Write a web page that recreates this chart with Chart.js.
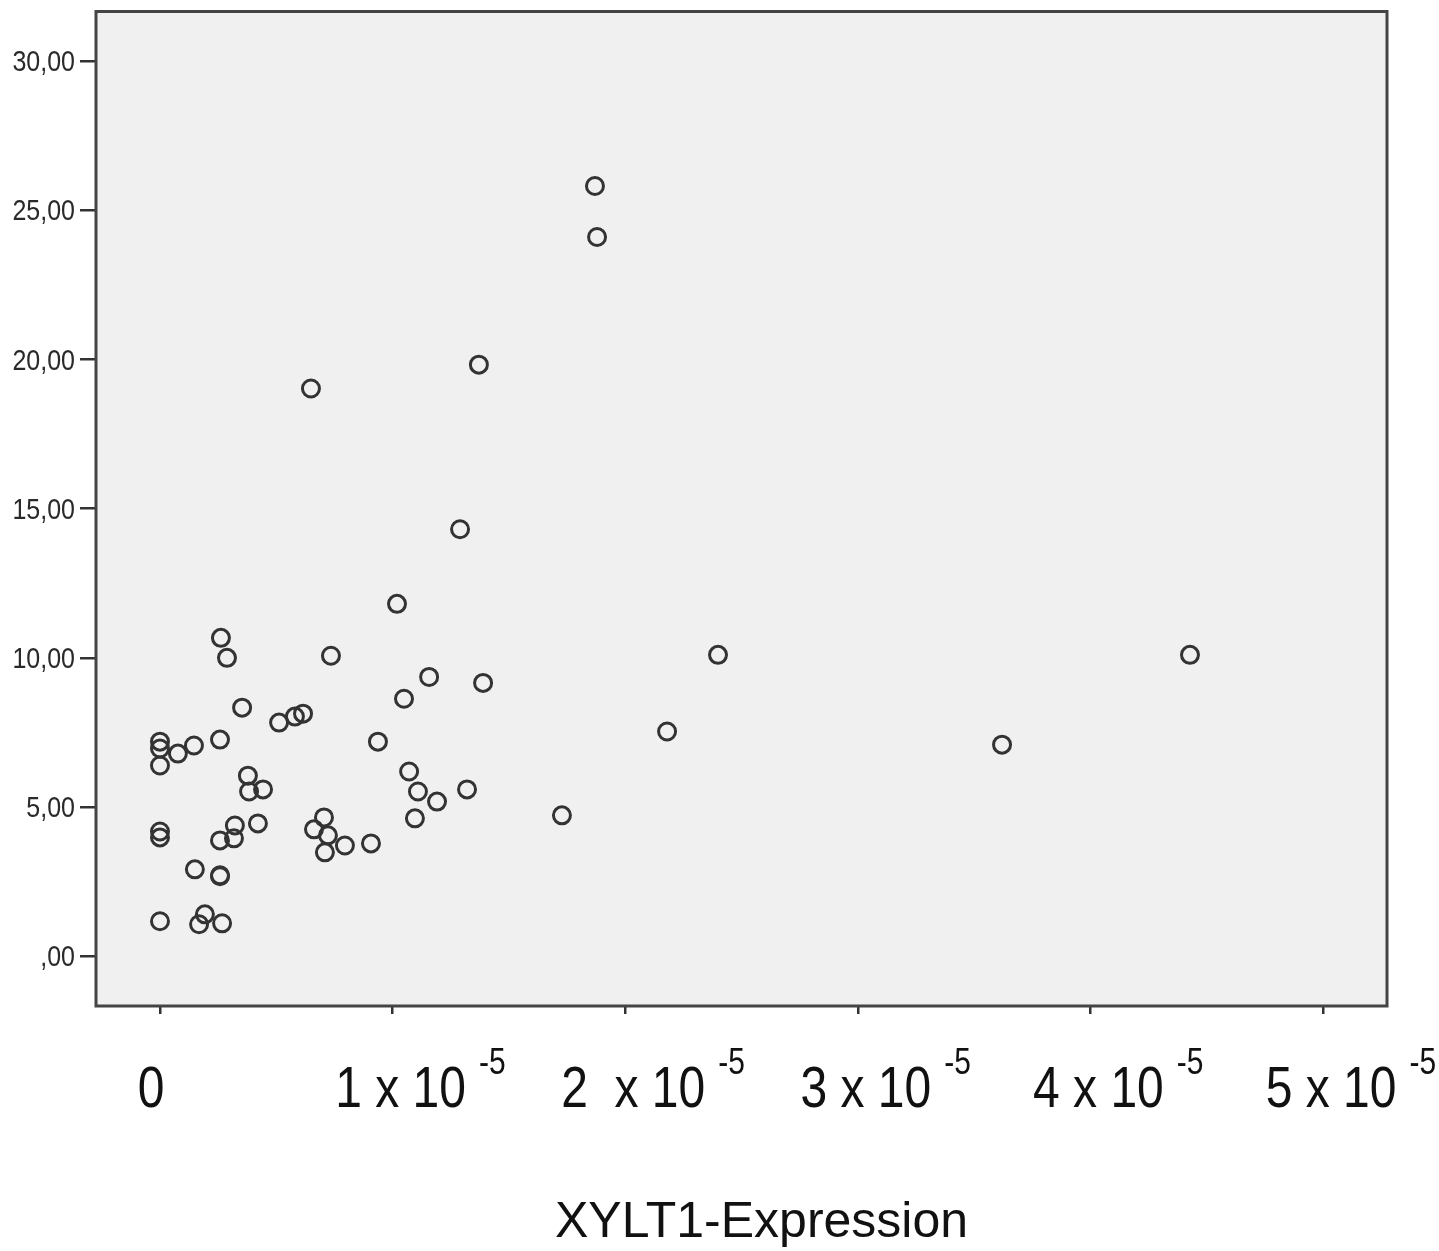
<!DOCTYPE html>
<html>
<head>
<meta charset="utf-8">
<script src="https://cdn.jsdelivr.net/npm/chart.js@4.4.1/dist/chart.umd.min.js"></script>
<style>
  html, body { margin: 0; padding: 0; background: #fff; }
</style>
</head>
<body>
<canvas id="grafico" width="1439" height="1251"></canvas>
<script>
// XYLT1-Expression (x) gegen Messwert (y)
const xylt1 = [
  1.870e-5, 1.879e-5, 1.371e-5, 0.649e-5, 1.290e-5, 1.019e-5, 0.262e-5, 0.288e-5,
  0.735e-5, 2.399e-5, 4.428e-5, 1.157e-5, 1.389e-5, 1.049e-5, 0.353e-5, 0.512e-5,
  0.580e-5, 0.615e-5, 2.180e-5, 3.620e-5, 0, 0, 0.077e-5, 0.146e-5,
  0.258e-5, 0.937e-5, 0, 0.378e-5, 0.383e-5, 0.443e-5, 1.071e-5, 1.109e-5,
  1.191e-5, 1.320e-5, 1.096e-5, 1.728e-5, 0, 0, 0.322e-5, 0.318e-5,
  0.258e-5, 0.421e-5, 0.705e-5, 0.662e-5, 0.722e-5, 0.709e-5, 0.795e-5, 0.907e-5,
  0.150e-5, 0.258e-5, 0.258e-5, 0, 0.193e-5, 0.168e-5, 0.267e-5
];
const werte = [
  25.82, 24.11, 19.83, 19.03, 14.31, 11.81, 10.67, 10.00,
  10.07, 10.10, 10.10, 9.36, 9.16, 8.63, 8.33, 7.83,
  8.03, 8.13, 7.53, 7.09, 7.19, 6.96, 6.79, 7.06,
  7.26, 7.19, 6.39, 6.05, 5.52, 5.59, 6.19, 5.52,
  5.18, 5.59, 4.62, 4.72, 4.18, 3.98, 4.38, 3.95,
  3.88, 4.45, 4.65, 4.25, 4.05, 3.48, 3.71, 3.78,
  2.91, 2.71, 2.68, 1.17, 1.40, 1.07, 1.10
];

const xTicks = [0, 1e-5, 2e-5, 3e-5, 4e-5, 5e-5];
const xTickBasis = ['0', '1 x 10', '2  x 10', '3 x 10', '4 x 10', '5 x 10'];
const xTickExp = ['', '-5', '-5', '-5', '-5', '-5'];
const yTicks = [0, 5, 10, 15, 20, 25, 30];
const yTickLabels = [',00', '5,00', '10,00', '15,00', '20,00', '25,00', '30,00'];
const xTitel = 'XYLT1-Expression';

const schrift = "'Liberation Sans', Arial, sans-serif";

// Text leicht in die Hoehe gezogen, wie im SPSS-Export
const streckText = (ctx, txt, x, y, size, align) => {
  ctx.save();
  ctx.font = size + 'px ' + schrift;
  ctx.textAlign = align || 'left';
  ctx.textBaseline = 'alphabetic';
  ctx.translate(x, y);
  ctx.scale(1, 1.2);
  ctx.fillText(txt, 0, 0);
  ctx.restore();
};

// grauer Hintergrund der Plotflaeche + Rahmen
const rahmenPlugin = {
  id: 'rahmen',
  beforeDraw(chart) {
    const { ctx, chartArea: a } = chart;
    ctx.save();
    ctx.fillStyle = '#fff';
    ctx.fillRect(0, 0, chart.width, chart.height);
    ctx.fillStyle = '#f0f0f0';
    ctx.fillRect(a.left, a.top, a.right - a.left, a.bottom - a.top);
    ctx.restore();
  },
  afterDraw(chart) {
    const { ctx, chartArea: a } = chart;
    ctx.save();
    ctx.strokeStyle = '#444';
    ctx.lineWidth = 3;
    ctx.strokeRect(a.left, a.top, a.right - a.left, a.bottom - a.top);
    ctx.restore();
  }
};

// Achsenbeschriftungen: y mit Komma, x mit Hochzahl (10^-5), Achsentitel
const beschriftungPlugin = {
  id: 'beschriftung',
  afterDraw(chart) {
    const { ctx, chartArea: a } = chart;
    const sx = chart.scales.x;
    const sy = chart.scales.y;
    ctx.save();

    ctx.fillStyle = '#2a2a2a';
    yTicks.forEach((v, i) => {
      const py = sy.getPixelForValue(v);
      streckText(ctx, yTickLabels[i], a.left - 21, py + 10, 25, 'right');
    });

    ctx.fillStyle = '#111';
    const basisY = a.bottom + 101;
    xTicks.forEach((v, i) => {
      const px = sx.getPixelForValue(v);
      ctx.font = '48px ' + schrift;
      const w = ctx.measureText(xTickBasis[i]).width;
      const mitte = px + (xTickExp[i] ? 8 : -9);
      const x0 = mitte - w / 2;
      streckText(ctx, xTickBasis[i], x0, basisY, 48);
      if (xTickExp[i]) streckText(ctx, xTickExp[i], x0 + w + 13, basisY - 33, 30);
    });

    // Titel etwas rechts der Mitte
    ctx.font = '50px ' + schrift;
    ctx.textAlign = 'center';
    ctx.textBaseline = 'alphabetic';
    ctx.fillText(xTitel, (a.left + a.right) / 2 + 20, a.bottom + 231);
    ctx.restore();
  }
};

new Chart(document.getElementById('grafico').getContext('2d'), {
  type: 'scatter',
  data: {
    datasets: [{
      label: 'XYLT1',
      data: xylt1.map((x, i) => ({ x, y: werte[i] })),
      pointStyle: 'circle',
      pointRadius: 8.5,
      pointHoverRadius: 8.5,
      pointBorderWidth: 3,
      borderColor: '#333',
      backgroundColor: 'rgba(0,0,0,0)'
    }]
  },
  options: {
    responsive: false,
    animation: false,
    events: [],
    layout: { padding: { top: 9, right: 52, bottom: 0, left: 0 } },
    plugins: {
      legend: { display: false },
      tooltip: { enabled: false }
    },
    scales: {
      x: {
        type: 'linear',
        min: -0.2751e-5,
        max: 5.275e-5,
        afterBuildTicks: (s) => { s.ticks = xTicks.map((v) => ({ value: v })); },
        afterFit: (s) => {
          s.height = 245;
          s.paddingLeft = 0;
          s.paddingRight = 0;
        },
        border: { display: false },
        grid: {
          drawOnChartArea: false,
          drawTicks: true,
          tickLength: 8,
          lineWidth: 2.5,
          color: '#333'
        },
        ticks: { display: false },
        title: { display: false }
      },
      y: {
        type: 'linear',
        min: -1.672,
        max: 31.67,
        afterBuildTicks: (s) => { s.ticks = yTicks.map((v) => ({ value: v })); },
        afterFit: (s) => {
          s.width = 96;
          s.paddingTop = 0;
          s.paddingBottom = 0;
        },
        border: { display: false },
        grid: {
          drawOnChartArea: false,
          drawTicks: true,
          tickLength: 16,
          lineWidth: 2.5,
          color: '#333'
        },
        ticks: { display: false }
      }
    }
  },
  plugins: [rahmenPlugin, beschriftungPlugin]
});
</script>
</body>
</html>
